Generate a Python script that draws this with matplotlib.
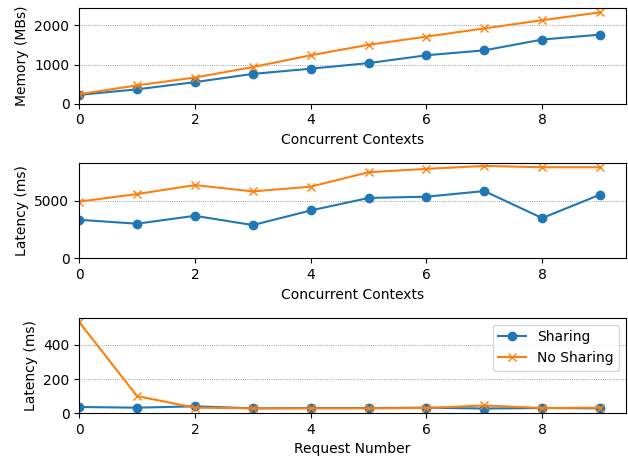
import numpy as np
import matplotlib.pyplot as plt

# data
contexts = [0, 1, 2, 3, 4, 5, 6, 7, 8, 9]
mem_sharing    = [226, 368, 552, 762, 895, 1038, 1238, 1364, 1640, 1766]
mem_no_sharing = [243, 469, 669, 937, 1238, 1506, 1715, 1925, 2134, 2335]

lat_sharing    = [3360, 3020, 3710, 2900, 4170, 5260, 5370, 5860, 3510, 5550]
lat_no_sharing = [4940, 5600, 6380, 5830, 6240, 7500, 7790, 8050, 7930, 7930]

requests = [0, 1, 2, 3, 4, 5, 6, 7, 8, 9]
req_sharing    = [36, 32, 40, 28, 30, 30, 32, 27, 30, 28]
req_no_sharing = [535, 100, 32, 28, 28, 28, 30, 45, 30, 32]

fig, axes = plt.subplots(3, 1, figsize=(6.28, 4.57), dpi=100)
fig.subplots_adjust(left=0.126, right=0.997, top=0.982, bottom=0.096, hspace=0.62)

panels = [
    (axes[0], contexts, mem_sharing, mem_no_sharing, 'Concurrent Contexts', 'Memory (MBs)'),
    (axes[1], contexts, lat_sharing, lat_no_sharing, 'Concurrent Contexts', 'Latency (ms)'),
    (axes[2], requests, req_sharing, req_no_sharing, 'Request Number', 'Latency (ms)'),
]

for ax, x, s, ns, xl, yl in panels:
    ax.plot(x, s, marker='o', label='Sharing')
    ax.plot(x, ns, marker='x', label='No Sharing')
    ax.set_xlim(left=0)
    ax.set_ylim(bottom=0)
    ax.set_xlabel(xl)
    ax.set_ylabel(yl)
    ax.grid(axis='y', linestyle=':', color='gray', linewidth=0.6)
    ax.set_axisbelow(True)

axes[2].legend(loc='upper right')

plt.savefig('out.png')
